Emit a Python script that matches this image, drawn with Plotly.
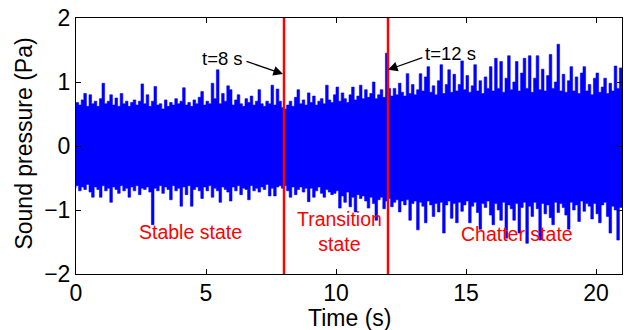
import plotly.graph_objects as go

# Sampling times (s), every 0.1 s from 0 to 21
time_s = [round(i * 0.1, 1) for i in range(211)]

# Upper envelope of the sound pressure signal (Pa)
upper_pa = [
    0.68, 0.64, 0.72, 0.82, 0.62, 0.80, 0.66, 0.70, 0.62, 0.74,
    0.98, 0.66, 0.70, 0.80, 0.64, 0.75, 0.62, 0.82, 0.66, 0.70,
    0.62, 0.68, 0.72, 0.64, 0.70, 0.97, 0.66, 0.80, 0.62, 0.70,
    0.93, 0.64, 0.66, 0.58, 0.72, 0.62, 0.68, 0.64, 0.74, 0.66,
    0.70, 0.91, 0.64, 0.68, 0.62, 0.72, 0.66, 0.76, 0.85, 0.64,
    0.70, 0.66, 0.98, 0.74, 1.19, 0.66, 0.82, 0.70, 0.94, 0.88,
    0.64, 0.72, 0.80, 0.66, 0.62, 0.74, 0.68, 0.78, 0.64, 0.70,
    0.88, 0.66, 0.62, 0.70, 0.66, 0.95, 0.64, 0.89, 0.70, 0.60,
    0.58, 0.64, 0.70, 0.62, 0.76, 0.88, 0.66, 0.72, 0.64, 0.83,
    0.68, 0.78, 0.64, 0.70, 0.74, 0.66, 0.95, 0.72, 0.68, 0.80,
    0.92, 0.70, 0.83, 0.74, 0.68, 0.80, 0.92, 0.72, 0.78, 0.95,
    0.74, 0.88, 0.76, 0.82, 1.00, 0.74, 0.80, 0.88, 0.76, 1.45,
    0.90, 0.78, 0.90, 0.80, 0.98, 0.84, 0.78, 1.13, 0.82, 0.96,
    0.80, 0.88, 1.13, 0.86, 1.08, 1.24, 0.84, 0.94, 0.80, 1.02,
    1.27, 0.82, 0.96, 1.19, 0.84, 1.12, 0.86, 0.96, 1.33, 0.88,
    1.10, 0.84, 0.94, 1.27, 0.86, 1.02, 0.82, 1.08, 0.90, 1.24,
    0.86, 1.37, 0.90, 1.32, 0.84, 1.06, 1.41, 0.88, 1.00, 1.32,
    0.86, 1.14, 1.37, 0.90, 1.41, 0.84, 1.06, 1.41, 0.88, 1.20,
    0.86, 1.10, 1.43, 0.90, 1.00, 1.59, 0.86, 1.12, 0.84, 1.02,
    1.24, 0.86, 1.08, 0.82, 1.14, 1.24, 0.86, 0.96, 0.80, 1.06,
    1.14, 0.84, 0.92, 1.06, 0.82, 0.98, 0.86, 1.25, 0.90, 1.22,
    0.90,
]

# Lower envelope of the sound pressure signal (Pa)
lower_pa = [
    -0.66, -0.62, -0.70, -0.64, -0.68, -0.60, -0.72, -0.80, -0.64, -0.68,
    -0.80, -0.62, -0.70, -0.66, -0.88, -0.64, -0.68, -0.74, -0.62, -0.70,
    -0.66, -0.80, -0.64, -0.70, -0.62, -0.76, -0.66, -0.68, -0.64, -0.72,
    -1.23, -0.66, -0.70, -0.62, -0.74, -0.64, -0.68, -0.84, -0.62, -0.70,
    -0.66, -0.94, -0.64, -0.76, -0.62, -0.94, -0.68, -0.64, -0.70, -0.82,
    -0.64, -0.70, -0.62, -0.80, -0.66, -0.70, -0.88, -0.64, -0.68, -0.72,
    -0.86, -0.64, -0.70, -0.62, -0.76, -0.66, -0.68, -0.84, -0.62, -0.70,
    -0.66, -0.72, -0.64, -0.68, -0.60, -0.78, -0.66, -0.78, -0.64, -0.62,
    -0.66, -0.62, -0.70, -0.80, -0.64, -0.76, -0.68, -0.64, -0.72, -0.66,
    -0.87, -0.66, -0.80, -0.70, -0.64, -0.74, -0.80, -0.68, -0.72, -0.76,
    -0.74, -0.70, -0.97, -0.78, -0.88, -0.72, -0.95, -0.80, -1.03, -0.76,
    -0.82, -0.78, -0.86, -0.97, -0.80, -0.90, -1.16, -0.84, -0.80, -0.98,
    -0.86, -0.82, -0.95, -0.88, -0.84, -1.03, -0.86, -0.92, -0.84, -1.16,
    -0.90, -0.86, -1.31, -0.88, -0.94, -1.20, -0.86, -0.92, -1.10, -0.90,
    -1.03, -0.88, -1.36, -0.92, -0.86, -1.13, -0.90, -1.20, -0.88, -1.02,
    -0.92, -0.86, -1.20, -0.94, -0.88, -1.04, -1.30, -0.90, -0.96, -0.86,
    -1.08, -1.23, -0.90, -1.00, -1.16, -0.88, -1.44, -0.92, -0.98, -1.16,
    -0.90, -1.36, -0.96, -0.88, -1.52, -0.94, -1.10, -0.88, -0.98, -1.47,
    -0.90, -1.06, -0.92, -1.12, -1.23, -0.88, -1.04, -0.90, -0.96, -1.08,
    -1.30, -0.88, -1.00, -0.92, -1.18, -0.86, -1.02, -0.90, -0.94, -1.14,
    -0.90, -1.06, -1.20, -0.92, -0.88, -1.10, -1.36, -0.94, -1.00, -1.47,
    -0.96,
]

state_boundaries = [8, 12]
boundary_labels = ["t=8 s", "t=12 s"]
state_names = ["Stable state", "Transition<br>state", "Chatter state"]

FONT = "Liberation Sans, Arial, Helvetica, sans-serif"
BLUE = "#0000FF"
RED = "#FF0000"

fig = go.Figure()

fig.add_trace(go.Scatter(
    x=time_s + time_s[::-1],
    y=upper_pa + lower_pa[::-1],
    mode="lines",
    line_shape="hv",
    fill="toself",
    fillcolor=BLUE,
    line=dict(color=BLUE, width=0.6),
    hoverinfo="skip",
    showlegend=False,
))

for tb in state_boundaries:
    fig.add_shape(type="line", xref="x", yref="paper", x0=tb, x1=tb, y0=0, y1=1,
                  line=dict(color=RED, width=2.5))

# Arrow annotations for the boundaries
arrow_specs = [
    # (head_x, head_y, tail_x, tail_y, text_x, text_y)
    (7.96, 1.125, 6.5, 1.33, 5.62, 1.375),
    (12.0, 1.19, 13.38, 1.39, 14.42, 1.45),
]
for (hx, hy, tx, ty, lx, ly), lab in zip(arrow_specs, boundary_labels):
    fig.add_annotation(x=hx, y=hy, ax=tx, ay=ty, axref="x", ayref="y",
                       xref="x", yref="y", text="", showarrow=True,
                       arrowhead=2, arrowsize=1.6, arrowwidth=1.2,
                       arrowcolor="black")
    fig.add_annotation(x=lx, y=ly, xref="x", yref="y", text=lab,
                       showarrow=False, font=dict(family=FONT, size=18.5, color="black"))

state_pos = [(4.42, -1.34), (10.15, -1.34), (16.96, -1.375)]
for (sx, sy), name in zip(state_pos, state_names):
    fig.add_annotation(x=sx, y=sy, xref="x", yref="y", text=name, showarrow=False,
                       font=dict(family=FONT, size=19.5, color=RED))

# Axis titles placed as annotations
fig.add_annotation(x=-0.095, y=0.51, xref="paper", yref="paper",
                   text="Sound pressure (Pa)", textangle=-90, showarrow=False,
                   xanchor="center", yanchor="middle",
                   font=dict(family=FONT, size=23, color="black"))
fig.add_annotation(x=0.5, y=-0.17, xref="paper", yref="paper",
                   text="Time (s)", showarrow=False,
                   xanchor="center", yanchor="middle",
                   font=dict(family=FONT, size=23, color="black"))

fig.update_layout(
    width=627, height=330,
    margin=dict(l=76, r=5, t=18, b=56),
    paper_bgcolor="white", plot_bgcolor="white",
    font=dict(family=FONT, size=23, color="black"),
    showlegend=False,
)
fig.update_xaxes(
    range=[0, 21], tickvals=[0, 5, 10, 15, 20],
    ticks="inside", ticklen=5, tickcolor="black",
    showline=True, linecolor="black", linewidth=1, mirror="ticks",
    showgrid=False, zeroline=False, automargin=False,
    tickfont=dict(size=23), ticklabelstandoff=-2,
)
fig.update_yaxes(
    range=[-2, 2], tickvals=[-2, -1, 0, 1, 2],
    ticks="inside", ticklen=5, tickcolor="black",
    showline=True, linecolor="black", linewidth=1, mirror="ticks",
    showgrid=False, zeroline=False, automargin=False,
    tickfont=dict(size=23),
)

fig.write_html(
    "out.html",
    config={"displayModeBar": False},
    post_script="document.body.style.margin='0';document.body.style.overflow='hidden';",
)
